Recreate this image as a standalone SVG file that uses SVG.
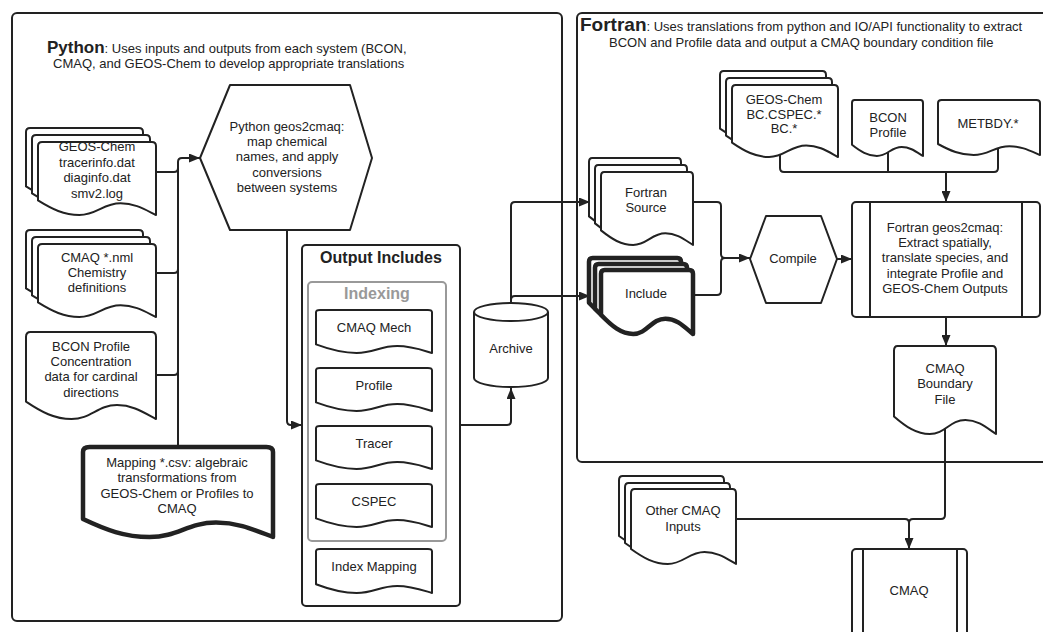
<svg xmlns="http://www.w3.org/2000/svg" width="1043" height="632" viewBox="0 0 1043 632">
<defs>
<style>
text{font-family:"Liberation Sans",Arial,sans-serif;font-size:13px;fill:#222;text-anchor:middle}
.sh{fill:#fff;stroke:#222;stroke-width:2;stroke-linejoin:round}
.thick{stroke-width:4.5}
.cn{fill:none;stroke:#222;stroke-width:2;stroke-linejoin:round}
.frame{fill:#fff;stroke:#222;stroke-width:2}
.bold{font-weight:bold}
.st{text-anchor:start}
</style>
<path id="doc" vector-effect="non-scaling-stroke" d="M0,0.055 Q0,0 0.035,0 H0.965 Q1,0 1,0.055 V1 C0.9,0.92 0.82,0.84 0.7,0.84 C0.55,0.84 0.5,1 0.35,1 C0.22,1 0.12,0.92 0,0.8 Z"/>
<path id="doc2" vector-effect="non-scaling-stroke" d="M0,0.06 Q0,0 0.04,0 H0.96 Q1,0 1,0.06 V1 C0.9,0.88 0.82,0.76 0.7,0.76 C0.55,0.76 0.5,1 0.35,1 C0.22,1 0.12,0.88 0,0.7 Z"/>
<marker id="ah" markerUnits="userSpaceOnUse" markerWidth="11" markerHeight="9" refX="11" refY="4.5" orient="auto">
<path d="M0,0 L11,4.5 L0,9 z" fill="#222"/>
</marker>
</defs>

<g id="python-frame">
<rect class="frame" x="12" y="13" width="550" height="608" rx="5"/>
<text class="st" x="47" y="53"><tspan class="bold" style="font-size:17px">Python</tspan>: Uses inputs and outputs from each system (BCON,</text>
<text class="st" x="53" y="68">CMAQ, and GEOS-Chem to develop appropriate translations</text>
</g>
<g id="fortran-frame">
<rect class="frame" x="577" y="13" width="480" height="449" rx="5"/>
<text class="st" x="580" y="31"><tspan class="bold" style="font-size:19px">Fortran</tspan>: Uses translations from python and IO/API functionality to extract</text>
<text class="st" x="609" y="47">BCON and Profile data and output a CMAQ boundary condition file</text>
</g>

<g id="connectors">
<path class="cn" d="M178,447 V162 Q178,158 182,158 H200" marker-end="url(#ah)"/>
<path class="cn" d="M156,172 H174 Q178,172 178,168"/>
<path class="cn" d="M156,273 H174 Q178,273 178,269"/>
<path class="cn" d="M156,375 H174 Q178,375 178,371"/>
<path class="cn" d="M287,230 V421 Q287,425 291,425 H302" marker-end="url(#ah)"/>
<path class="cn" d="M460,425 H507 Q511,425 511,421 V388" marker-end="url(#ah)"/>
<path class="cn" d="M511,305 V206 Q511,202 515,202 H590" marker-end="url(#ah)"/>
<path class="cn" d="M511,300 Q511,296 515,296 H590" marker-end="url(#ah)"/>
<path class="cn" d="M693,202 H717 Q721,202 721,206 V254 Q721,258 725,258 H750" marker-end="url(#ah)"/>
<path class="cn" d="M693,295 H717 Q721,295 721,291 V262 Q721,258 725,258"/>
<path class="cn" d="M837,259 H852" marker-end="url(#ah)"/>
<path class="cn" d="M780,148 V168 Q780,172 784,172 H994 Q998,172 998,168 V148"/>
<path class="cn" d="M888,148 V172"/>
<path class="cn" d="M946,172 V202" marker-end="url(#ah)"/>
<path class="cn" d="M946,317 V346" marker-end="url(#ah)"/>
<path class="cn" d="M945,425 V515 Q945,519 941,519 H913 Q909,519 909,523 V549" marker-end="url(#ah)"/>
<path class="cn" d="M736,519 H905 Q909,519 909,523"/>
</g>

<g id="geos-chem-inputs">
<use href="#doc" class="sh" transform="translate(26,128) scale(117,73)"/>
<use href="#doc" class="sh" transform="translate(32,135) scale(118,73)"/>
<use href="#doc" class="sh" transform="translate(38,142) scale(118,73)"/>
<text x="97" y="151">GEOS-Chem</text>
<text x="97" y="167">tracerinfo.dat</text>
<text x="97" y="182">diaginfo.dat</text>
<text x="97" y="198">smv2.log</text>
</g>

<g id="cmaq-nml">
<use href="#doc" class="sh" transform="translate(26,230) scale(117,73)"/>
<use href="#doc" class="sh" transform="translate(32,237) scale(118,73)"/>
<use href="#doc" class="sh" transform="translate(38,244) scale(118,73)"/>
<text x="97" y="262">CMAQ *.nml</text>
<text x="97" y="277">Chemistry</text>
<text x="97" y="292">definitions</text>
</g>

<g id="bcon-profile-data">
<use href="#doc" class="sh" transform="translate(26,332) scale(130,87)"/>
<text x="91" y="351">BCON Profile</text>
<text x="91" y="366">Concentration</text>
<text x="91" y="381">data for cardinal</text>
<text x="91" y="397">directions</text>
</g>

<g id="mapping-csv">
<use href="#doc" class="sh thick" transform="translate(83,447) scale(190,90)"/>
<text x="177" y="467">Mapping *.csv: algebraic</text>
<text x="177" y="482">transformations from</text>
<text x="177" y="498">GEOS-Chem or Profiles to</text>
<text x="177" y="513">CMAQ</text>
</g>

<g id="python-geos2cmaq">
<polygon class="sh" points="200,158 230,85 350,85 372,158 350,230 230,230"/>
<text x="287" y="131">Python geos2cmaq:</text>
<text x="287" y="146">map chemical</text>
<text x="287" y="161">names, and apply</text>
<text x="287" y="177">conversions</text>
<text x="287" y="192">between systems</text>
</g>

<g id="output-includes">
<rect class="sh" x="302" y="245" width="158" height="361" rx="4"/>
<text class="bold" x="381" y="263" style="font-size:16px">Output Includes</text>
<rect x="308" y="282" width="138" height="259" rx="4" fill="#fff" stroke="#999" stroke-width="2"/>
<text class="bold" x="377" y="299" style="font-size:16px;fill:#999">Indexing</text>
</g>
<g id="cmaq-mech">
<use href="#doc" class="sh" transform="translate(316,310) scale(116,43)"/>
<text x="374" y="332">CMAQ Mech</text>
</g>
<g id="profile">
<use href="#doc" class="sh" transform="translate(316,368) scale(116,43)"/>
<text x="374" y="390">Profile</text>
</g>
<g id="tracer">
<use href="#doc" class="sh" transform="translate(316,426) scale(116,43)"/>
<text x="374" y="448">Tracer</text>
</g>
<g id="cspec">
<use href="#doc" class="sh" transform="translate(316,484) scale(116,43)"/>
<text x="374" y="506">CSPEC</text>
</g>
<g id="index-mapping">
<use href="#doc" class="sh" transform="translate(316,549) scale(116,44)"/>
<text x="374" y="571">Index Mapping</text>
</g>

<g id="archive">
<path class="sh" d="M474,312 V378 A37,9 0 0 0 548,378 V312"/>
<ellipse class="sh" cx="511" cy="312" rx="37" ry="9"/>
<text x="511" y="353">Archive</text>
</g>

<g id="fortran-source">
<use href="#doc" class="sh" transform="translate(589,158) scale(92,73)"/>
<use href="#doc" class="sh" transform="translate(595,165) scale(92,73)"/>
<use href="#doc" class="sh" transform="translate(601,172) scale(92,73)"/>
<text x="646" y="197">Fortran</text>
<text x="646" y="212">Source</text>
</g>

<g id="include">
<use href="#doc2" class="sh thick" transform="translate(589,258) scale(92,64)"/>
<use href="#doc2" class="sh thick" transform="translate(595,264) scale(92,64)"/>
<use href="#doc2" class="sh thick" transform="translate(601,270) scale(92,64)"/>
<text x="646" y="298">Include</text>
</g>

<g id="compile">
<polygon class="sh" points="750,259 766,216 821,216 837,259 821,303 766,303"/>
<text x="793" y="263">Compile</text>
</g>

<g id="geos-chem-bc">
<use href="#doc" class="sh" transform="translate(720,71) scale(106,72)"/>
<use href="#doc" class="sh" transform="translate(726,78) scale(106,72)"/>
<use href="#doc" class="sh" transform="translate(732,85) scale(106,72)"/>
<text x="784" y="104">GEOS-Chem</text>
<text x="784" y="119">BC.CSPEC.*</text>
<text x="784" y="133">BC.*</text>
</g>

<g id="bcon-profile">
<use href="#doc" class="sh" transform="translate(852,100) scale(71,56)"/>
<text x="888" y="122">BCON</text>
<text x="888" y="137">Profile</text>
</g>

<g id="metbdy">
<use href="#doc" class="sh" transform="translate(938,100) scale(102,55)"/>
<text x="988" y="128">METBDY.*</text>
</g>

<g id="fortran-geos2cmaq">
<rect class="sh" x="852" y="202" width="188" height="115" rx="4"/>
<line class="cn" x1="870" y1="202" x2="870" y2="317"/>
<line class="cn" x1="1022" y1="202" x2="1022" y2="317"/>
<text x="945" y="232">Fortran geos2cmaq:</text>
<text x="945" y="247">Extract spatially,</text>
<text x="945" y="262">translate species, and</text>
<text x="945" y="278">integrate Profile and</text>
<text x="945" y="293">GEOS-Chem Outputs</text>
</g>

<g id="cmaq-boundary-file">
<use href="#doc" class="sh" transform="translate(894,346) scale(102,88)"/>
<text x="945" y="373">CMAQ</text>
<text x="945" y="388">Boundary</text>
<text x="945" y="404">File</text>
</g>

<g id="other-cmaq-inputs">
<use href="#doc" class="sh" transform="translate(619,476) scale(105,75)"/>
<use href="#doc" class="sh" transform="translate(625,483) scale(105,75)"/>
<use href="#doc" class="sh" transform="translate(631,489) scale(105,75)"/>
<text x="683" y="515">Other CMAQ</text>
<text x="683" y="531">Inputs</text>
</g>

<g id="cmaq">
<rect class="sh" x="852" y="549" width="115" height="100" rx="4"/>
<line class="cn" x1="863" y1="549" x2="863" y2="649"/>
<line class="cn" x1="957" y1="549" x2="957" y2="649"/>
<text x="909" y="595">CMAQ</text>
</g>
</svg>
